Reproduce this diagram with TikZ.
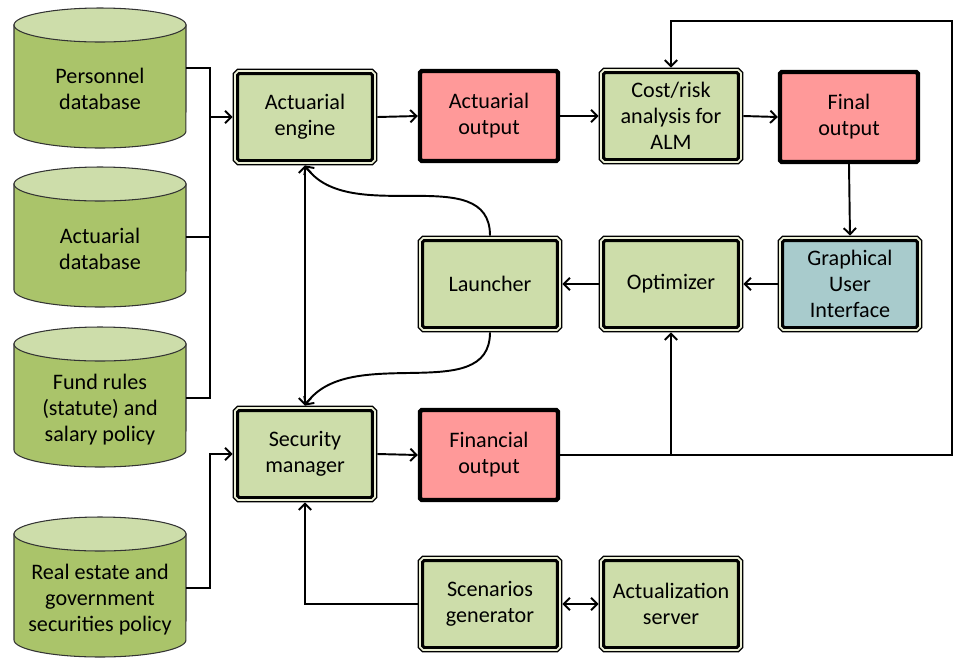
\documentclass[tikz,border=0pt]{standalone}
\usepackage{fontspec}
\setmainfont{Carlito}
\usepackage{xcolor}
\usepackage{tikz}
\usetikzlibrary{arrows.meta}
\definecolor{VerdeCaja}{RGB}{205,221,170}
\definecolor{VerdeBase}{RGB}{170,196,106}
\definecolor{CremaBorde}{RGB}{236,240,214}
\definecolor{RosaSalida}{RGB}{255,153,153}
\definecolor{AzulInterfaz}{RGB}{168,203,204}

\begin{document}
\begin{tikzpicture}[x=0.02cm,y=-0.02cm,>={Straight Barb[length=3.5pt,width=7pt]},line width=1.1pt,
  texto/.style={align=center,font=\fontsize{12.6}{14.8}\selectfont},
  base/.style={texto,minimum width=3.44cm,outer sep=0pt},
  caja/.style={texto,draw=black,line width=1.7pt,fill=VerdeCaja,rounded corners=1pt,
    minimum width=2.7cm,minimum height=1.74cm,outer sep=2.8pt,
    preaction={draw=black,line width=5.6pt},preaction={draw=CremaBorde,line width=3.9pt}},
  salida/.style={texto,draw=black,line width=2.5pt,fill=RosaSalida,rounded corners=1pt,
    minimum width=2.76cm,minimum height=1.8cm},
  cuerpo/.style={draw=black!80,line width=0.6pt,fill=VerdeBase},
  tapa/.style={draw=black!80,line width=0.6pt,fill=VerdeCaja}]
  \useasboundingbox (0,0) rectangle (958,657);

  % bases de datos
  \draw[cuerpo] (14,25) -- (14,131) arc[start angle=180,end angle=360,x radius=1.72cm,y radius=0.34cm] -- (186,25) -- cycle;
  \draw[tapa] (100,25) ellipse [x radius=1.72cm,y radius=0.34cm];
  \draw[cuerpo] (14,184) -- (14,290) arc[start angle=180,end angle=360,x radius=1.72cm,y radius=0.34cm] -- (186,184) -- cycle;
  \draw[tapa] (100,184) ellipse [x radius=1.72cm,y radius=0.34cm];
  \draw[cuerpo] (14,344) -- (14,450) arc[start angle=180,end angle=360,x radius=1.72cm,y radius=0.34cm] -- (186,344) -- cycle;
  \draw[tapa] (100,344) ellipse [x radius=1.72cm,y radius=0.34cm];
  \draw[cuerpo] (14,534) -- (14,640) arc[start angle=180,end angle=360,x radius=1.72cm,y radius=0.34cm] -- (186,534) -- cycle;
  \draw[tapa] (100,534) ellipse [x radius=1.72cm,y radius=0.34cm];

  \node[base] (personal) at (100,89) {Personnel\\database};
  \node[base] (actuarial) at (100,249) {Actuarial\\database};
  \node[base] (reglas) at (100,410) {Fund rules\\(statute) and\\salary policy};
  \node[base] (inmuebles) at (100,600) {Real estate and\\government\\securities policy};

  % modulos
  \node[caja] (motor) at (305,117) {Actuarial\\engine};
  \node[salida] (salidaAct) at (489,116) {Actuarial\\output};
  \node[caja] (costo) at (671,116) {Cost/risk\\analysis for\\ALM};
  \node[salida] (final) at (849,117) {Final\\output};
  \node[caja] (lanzador) at (490,284) {Launcher};
  \node[caja] (optimizador) at (671,284) {Optimizer};
  \node[caja,fill=AzulInterfaz] (interfaz) at (850,284) {Graphical\\User\\Interface};
  \node[caja] (seguridad) at (305,454) {Security\\manager};
  \node[salida] (financiera) at (489,455) {Financial\\output};
  \node[caja] (escenarios) at (490,604) {Scenarios\\generator};
  \node[caja] (actualizacion) at (671,604) {Actualization\\server};

  \coordinate (barra) at (210,117);
  \coordinate (barra2) at (210,454);
  \coordinate (esquina) at (952,21);

  \draw ([yshift=0.42cm]personal.east) -| (barra) |- ([yshift=0.24cm]reglas.east);
  \draw ([yshift=0.24cm]actuarial.east) -- ([yshift=0.24cm]actuarial.east -| barra);
  \draw[->] (barra) -- (motor.west);
  \draw[->] ([yshift=0.24cm]inmuebles.east) -| (barra2) -- (seguridad.west);

  \draw[->] (motor.east) -- (salidaAct.west);
  \draw[->] (salidaAct.east) -- (costo.west);
  \draw[->] (costo.east) -- (final.west);
  \draw[->] (final.south) -- (interfaz.north);
  \draw[->] (interfaz.west) -- (optimizador.east);
  \draw[->] (optimizador.west) -- (lanzador.east);
  \draw[<->] (motor.south) -- (seguridad.north);
  \draw[->] (lanzador.north) .. controls (490,160) and (349,228) .. (motor.south);
  \draw[->] (lanzador.south) .. controls (490,407) and (349,342) .. (seguridad.north);
  \draw[->] (seguridad.east) -- (financiera.west);
  \draw[->] (financiera.east) -| (esquina) -| (costo.north);
  \draw[->] (financiera.east -| optimizador.south) -- (optimizador.south);
  \draw[->] (escenarios.west) -| (seguridad.south);
  \draw[<->] (escenarios.east) -- (actualizacion.west);
\end{tikzpicture}
\end{document}
